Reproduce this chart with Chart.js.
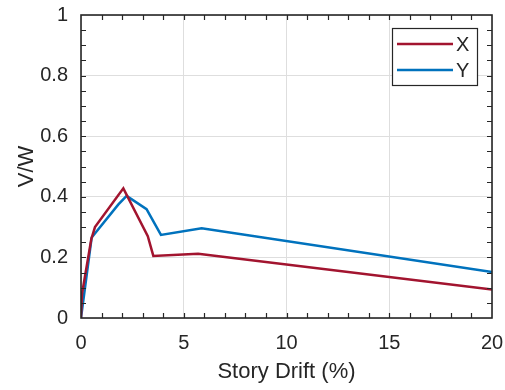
<!DOCTYPE html>
<html>
<head>
<meta charset="utf-8">
<script src="https://cdn.jsdelivr.net/npm/chart.js@4"></script>
<style>
  html, body { margin: 0; padding: 0; background: #fff; }
  #wrap { width: 505px; height: 390px; }
</style>
</head>
<body>
<div id="wrap"><canvas id="chart" width="505" height="390"></canvas></div>
<script>
// values
const driftX = [0, 0.05, 0.5, 0.68, 2.06, 3.25, 3.52, 5.7, 20];
const vwX = [0, 0.08, 0.26, 0.30, 0.428, 0.27, 0.205, 0.212, 0.094];

const driftY = [0, 0.52, 1.82, 2.22, 3.19, 3.89, 5.87, 20];
const vwY = [0, 0.266, 0.375, 0.403, 0.359, 0.274, 0.296, 0.152];

const seriesNames = ['X', 'Y'];
const seriesColors = ['#A2142F', '#0072BD'];

const xTicks = [0, 5, 10, 15, 20];
const yTicks = [0, 0.2, 0.4, 0.6, 0.8, 1];

const ink = '#262626';
const fontFamily = '"Liberation Sans", Arial, Helvetica, sans-serif';

function toPoints(xs, ys) {
  return xs.map((x, i) => ({ x: x, y: ys[i] }));
}

// box, inward ticks (major + minor) and the legend, MATLAB style
const frame = {
  id: 'frame',
  afterDraw(chart) {
    const ctx = chart.ctx;
    const a = chart.chartArea;
    const xs = chart.scales.x;
    const ys = chart.scales.y;
    const len = 5;

    ctx.save();
    ctx.strokeStyle = ink;
    ctx.lineWidth = 1.2;
    ctx.beginPath();
    for (let v = 1; v < 20; v++) {
      const px = Math.round(xs.getPixelForValue(v)) + 0.5;
      ctx.moveTo(px, a.bottom);
      ctx.lineTo(px, a.bottom - len);
      ctx.moveTo(px, a.top);
      ctx.lineTo(px, a.top + len);
    }
    for (let k = 1; k < 20; k++) {
      const py = Math.round(ys.getPixelForValue(k * 0.05)) + 0.5;
      ctx.moveTo(a.left, py);
      ctx.lineTo(a.left + len, py);
      ctx.moveTo(a.right, py);
      ctx.lineTo(a.right - len, py);
    }
    ctx.stroke();

    ctx.lineWidth = 1.6;
    ctx.strokeRect(a.left, a.top, a.right - a.left, a.bottom - a.top);

    // legend
    const lx = 392, ly = 28, lw = 85, lh = 57;
    ctx.fillStyle = '#fff';
    ctx.fillRect(lx, ly, lw, lh);
    ctx.lineWidth = 1.2;
    ctx.strokeStyle = ink;
    ctx.strokeRect(lx + 0.5, ly + 0.5, lw, lh);

    ctx.font = '20px ' + fontFamily;
    ctx.textBaseline = 'middle';
    ctx.textAlign = 'left';
    chart.data.datasets.forEach((ds, i) => {
      const yy = ly + 16 + i * 26;
      ctx.strokeStyle = ds.borderColor;
      ctx.lineWidth = 2.5;
      ctx.beginPath();
      ctx.moveTo(lx + 5, yy);
      ctx.lineTo(lx + 61, yy);
      ctx.stroke();
      ctx.fillStyle = ink;
      ctx.fillText(ds.label, lx + 64, yy + 1);
    });
    ctx.restore();
  }
};

function noEdgePadding(s) {
  s.paddingLeft = 0;
  s.paddingRight = 0;
  s.paddingTop = 0;
  s.paddingBottom = 0;
}

new Chart(document.getElementById('chart'), {
  type: 'scatter',
  data: {
    datasets: [
      {
        label: seriesNames[0],
        data: toPoints(driftX, vwX),
        borderColor: seriesColors[0],
        backgroundColor: seriesColors[0],
        showLine: true,
        borderWidth: 2.5,
        pointRadius: 0,
        tension: 0
      },
      {
        label: seriesNames[1],
        data: toPoints(driftY, vwY),
        borderColor: seriesColors[1],
        backgroundColor: seriesColors[1],
        showLine: true,
        borderWidth: 2.5,
        pointRadius: 0,
        tension: 0
      }
    ]
  },
  options: {
    responsive: false,
    animation: false,
    devicePixelRatio: 1,
    layout: { padding: { left: 0, right: 13, top: 15, bottom: 0 } },
    plugins: {
      legend: { display: false },
      tooltip: { enabled: false }
    },
    scales: {
      x: {
        type: 'linear',
        min: 0,
        max: 20,
        afterBuildTicks: s => { s.ticks = xTicks.map(v => ({ value: v })); },
        afterFit: s => { s.height = 72; noEdgePadding(s); },
        grid: { color: '#dedede', lineWidth: 1, drawTicks: false },
        border: { display: false },
        ticks: {
          color: ink,
          padding: 13,
          maxRotation: 0,
          font: { family: fontFamily, size: 20 },
          callback: v => String(v)
        },
        title: {
          display: true,
          text: 'Story Drift (%)',
          color: ink,
          font: { family: fontFamily, size: 22 },
          padding: { top: 0, bottom: 5 }
        }
      },
      y: {
        type: 'linear',
        min: 0,
        max: 1,
        afterBuildTicks: s => { s.ticks = yTicks.map(v => ({ value: v })); },
        afterFit: s => { s.width = 81; noEdgePadding(s); },
        grid: { color: '#dedede', lineWidth: 1, drawTicks: false },
        border: { display: false },
        ticks: {
          color: ink,
          padding: 13,
          font: { family: fontFamily, size: 20 },
          callback: v => String(v)
        },
        title: {
          display: true,
          text: 'V/W',
          color: ink,
          font: { family: fontFamily, size: 22 },
          padding: { top: 14, bottom: 0 }
        }
      }
    }
  },
  plugins: [frame]
});
</script>
</body>
</html>
